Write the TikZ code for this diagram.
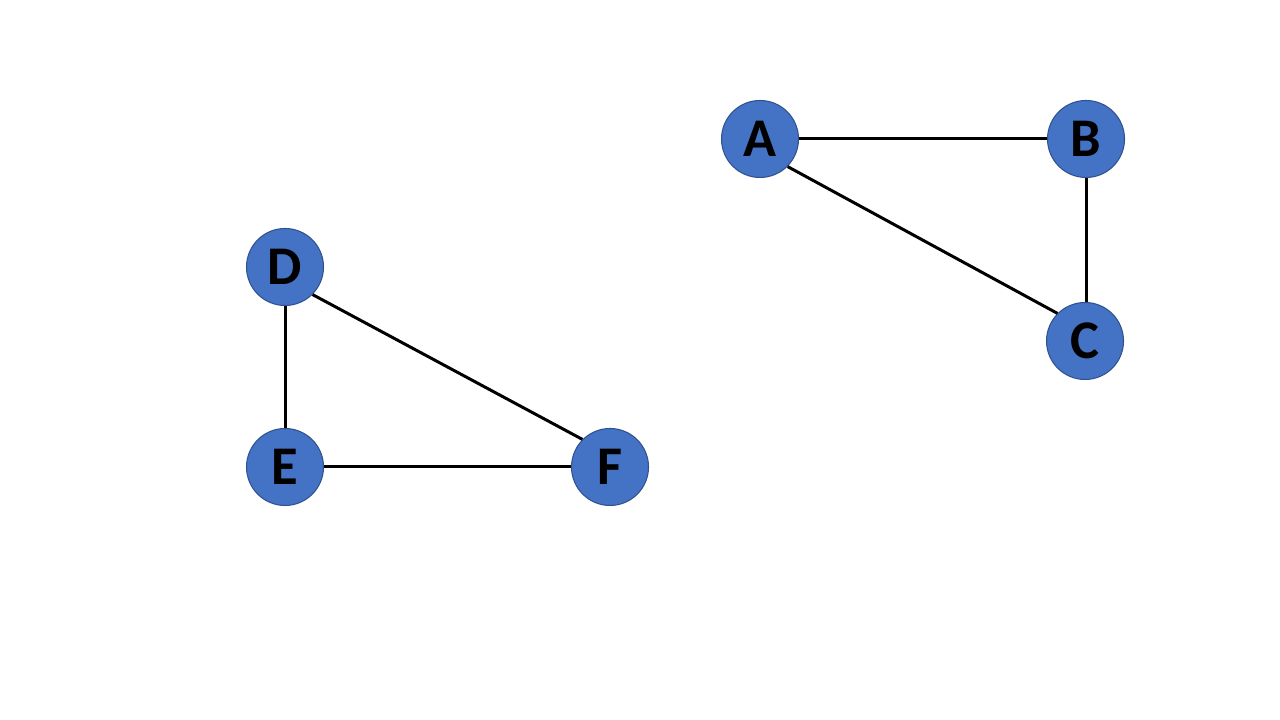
\documentclass[tikz,border=0pt]{standalone}
\usepackage{fontspec}
\setmainfont{Carlito}
\definecolor{nodeblue}{HTML}{4472C4}
\definecolor{nodeedge}{HTML}{2F528F}
\begin{document}
\begin{tikzpicture}[
        vertex/.style={circle, fill=nodeblue, draw=nodeedge, line width=0.3pt, minimum size=0.77cm, inner sep=0pt, font=\fontsize{15.5}{18}\selectfont\bfseries},
        link/.style={line width=0.85pt, black}
    ]
    
            \useasboundingbox (0,0) rectangle (12.8,7.2);
    
            \node[vertex] (a) at (7.60,5.81) {A};
            \node[vertex] (b) at (10.86,5.81) {B};
            \node[vertex] (c) at (10.85,3.79) {C};
    
            \node[vertex] (d) at (2.85,4.53) {D};
            \node[vertex] (e) at (2.85,2.53) {E};
            \node[vertex] (f) at (6.10,2.53) {F};
    
            % Draw edges of the right triangle
            \draw[link] (a) -- (b);
            \draw[link] (b.south) -- (b.south |- c.north);
            \draw[link] (a.-45) -- (c.135);
    
            % Draw edges of the left triangle
            \draw[link] (d) -- (e);
            \draw[link] (e) -- (f);
            \draw[link] (d.-45) -- (f.135);
    
        \end{tikzpicture}
\end{document}
